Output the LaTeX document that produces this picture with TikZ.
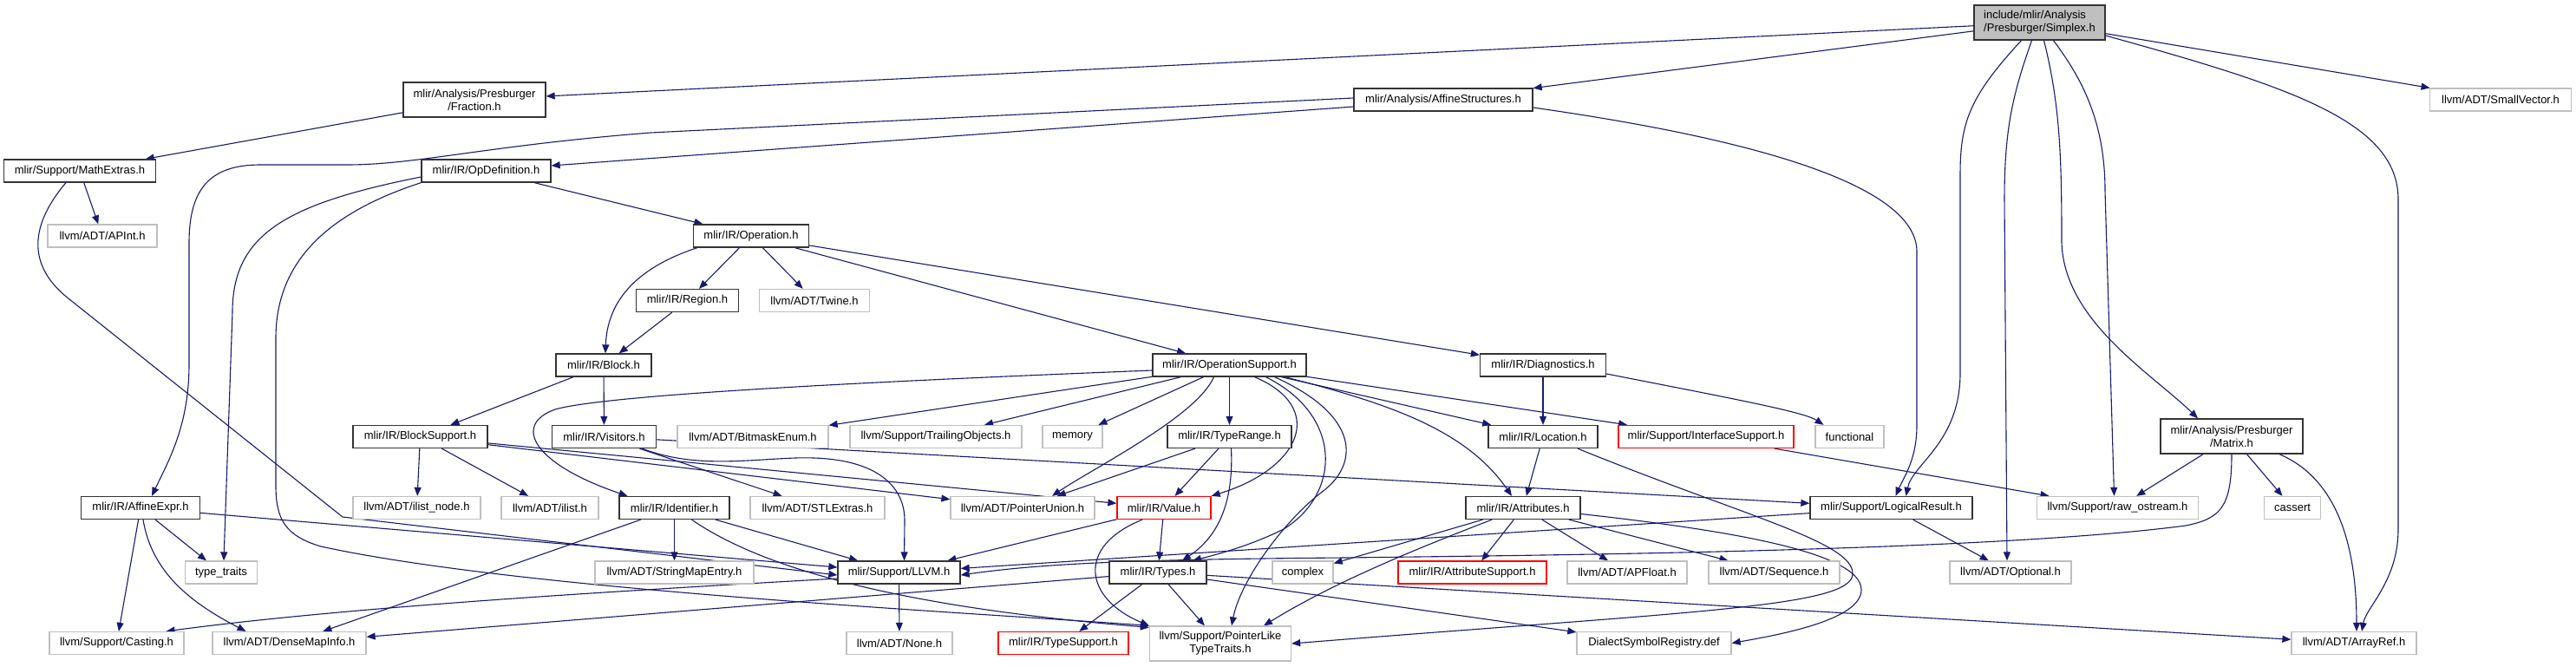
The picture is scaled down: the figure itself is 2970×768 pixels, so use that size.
\documentclass[tikz,border=0pt]{standalone}
\usepackage{fontspec}
\setmainfont{Liberation Sans}
\usetikzlibrary{arrows.meta,backgrounds}
\definecolor{depblue}{RGB}{25,25,112}
\definecolor{sysgray}{RGB}{191,191,191}

\begin{document}
\begin{tikzpicture}[x=1pt,y=-1pt,>={Triangle[length=10pt,width=8pt]}]
  \tikzstyle{hbox}=[draw=black!80, fill=white, line width=1.3pt, minimum height=26pt,
    inner sep=0pt, font=\fontsize{13}{15}\selectfont, align=center]
  \tikzstyle{sysbox}=[hbox, draw=sysgray]
  \tikzstyle{redbox}=[hbox, draw=red]
  \tikzstyle{rootbox}=[hbox, fill=sysgray, minimum height=40pt, align=left]
  \tikzstyle{dep}=[->, draw=depblue, line width=1.1pt]

  \useasboundingbox (0,0) rectangle (2970,768);

  % row by row, top to bottom
  \node[rootbox, minimum width=151pt] (simplex) at (2351.5,26) {include/mlir/Analysis\\/Presburger/Simplex.h};

  \node[hbox, minimum width=164pt, minimum height=40pt] (fraction) at (547,115) {mlir/Analysis/Presburger\\/Fraction.h};
  \node[hbox, minimum width=206pt] (affstruct) at (1664,115) {mlir/Analysis/AffineStructures.h};
  \node[sysbox, minimum width=163pt] (smallvec) at (2883,115) {llvm/ADT/SmallVector.h};

  \node[hbox, minimum width=175pt] (mathextras) at (92,197) {mlir/Support/MathExtras.h};
  \node[hbox, minimum width=149pt] (opdef) at (560.5,197) {mlir/IR/OpDefinition.h};

  \node[sysbox, minimum width=126pt] (apint) at (118,272) {llvm/ADT/APInt.h};
  \node[hbox, minimum width=133pt] (operation) at (866,272) {mlir/IR/Operation.h};

  \node[hbox, minimum width=118pt] (region) at (792.5,346.5) {mlir/IR/Region.h};
  \node[sysbox, minimum width=127pt] (twine) at (939,346.5) {llvm/ADT/Twine.h};

  \node[hbox, minimum width=110pt] (block) at (696,421) {mlir/IR/Block.h};
  \node[hbox, minimum width=177pt] (opsupport) at (1417.5,421) {mlir/IR/OperationSupport.h};
  \node[hbox, minimum width=145pt] (diagnostics) at (1779,421) {mlir/IR/Diagnostics.h};

  \node[hbox, minimum width=155pt] (blocksupport) at (484.5,503.5) {mlir/IR/BlockSupport.h};
  \node[hbox, minimum width=120pt] (visitors) at (696.5,503.5) {mlir/IR/Visitors.h};
  \node[sysbox, minimum width=174pt] (bitmask) at (868,503.5) {llvm/ADT/BitmaskEnum.h};
  \node[sysbox, minimum width=198pt] (trailing) at (1079,503.5) {llvm/Support/TrailingObjects.h};
  \node[sysbox, minimum width=69pt] (memory) at (1236.5,503.5) {memory};
  \node[hbox, minimum width=143pt] (typerange) at (1417.5,503.5) {mlir/IR/TypeRange.h};
  \node[hbox, minimum width=126pt] (location) at (1779,503.5) {mlir/IR/Location.h};
  \node[redbox, minimum width=202pt] (interface) at (1967,503.5) {mlir/Support/InterfaceSupport.h};
  \node[sysbox, minimum width=79pt] (functional) at (2132.5,503.5) {functional};
  \node[hbox, minimum width=164pt, minimum height=40pt] (matrix) at (2573,503) {mlir/Analysis/Presburger\\/Matrix.h};

  \node[hbox, minimum width=137pt] (affexpr) at (162,585.5) {mlir/IR/AffineExpr.h};
  \node[sysbox, minimum width=147pt] (ilistnode) at (480.5,585.5) {llvm/ADT/ilist\_node.h};
  \node[sysbox, minimum width=112pt] (ilist) at (634,585.5) {llvm/ADT/ilist.h};
  \node[hbox, minimum width=127pt] (identifier) at (777.5,585.5) {mlir/IR/Identifier.h};
  \node[sysbox, minimum width=155pt] (stlextras) at (942.5,585.5) {llvm/ADT/STLExtras.h};
  \node[sysbox, minimum width=166pt] (ptrunion) at (1179,585.5) {llvm/ADT/PointerUnion.h};
  \node[redbox, minimum width=108pt] (value) at (1342,585.5) {mlir/IR/Value.h};
  \node[hbox, minimum width=132pt] (attributes) at (1756,585.5) {mlir/IR/Attributes.h};
  \node[hbox, minimum width=187pt] (logical) at (2180.5,585.5) {mlir/Support/LogicalResult.h};
  \node[sysbox, minimum width=186pt] (rawostream) at (2441.5,585.5) {llvm/Support/raw\_ostream.h};
  \node[sysbox, minimum width=65pt] (cassert) at (2643,585.5) {cassert};

  \node[sysbox, minimum width=83pt] (typetraits) at (255,660) {type\_traits};
  \node[sysbox, minimum width=183pt] (stringmap) at (777.5,660) {llvm/ADT/StringMapEntry.h};
  \node[hbox, minimum width=141pt] (llvmh) at (1036.5,660) {mlir/Support/LLVM.h};
  \node[hbox, minimum width=112pt] (types) at (1335,660) {mlir/IR/Types.h};
  \node[sysbox, minimum width=70pt] (complex) at (1502,660) {complex};
  \node[redbox, minimum width=171pt] (attrsupport) at (1697.5,660) {mlir/IR/AttributeSupport.h};
  \node[sysbox, minimum width=138pt] (apfloat) at (1876,660) {llvm/ADT/APFloat.h};
  \node[sysbox, minimum width=151pt] (sequence) at (2045.5,660) {llvm/ADT/Sequence.h};
  \node[sysbox, minimum width=140pt] (optional) at (2318,660) {llvm/ADT/Optional.h};

  \node[sysbox, minimum width=155pt] (casting) at (134.5,741.5) {llvm/Support/Casting.h};
  \node[sysbox, minimum width=177pt] (densemap) at (333.5,741.5) {llvm/ADT/DenseMapInfo.h};
  \node[sysbox, minimum width=122pt] (none) at (1037,741.5) {llvm/ADT/None.h};
  \node[redbox, minimum width=150pt] (typesupport) at (1226,741.5) {mlir/IR/TypeSupport.h};
  \node[sysbox, minimum width=163pt, minimum height=40pt] (ptrlike) at (1407,742) {llvm/Support/PointerLike\\TypeTraits.h};
  \node[sysbox, minimum width=178pt] (dialectreg) at (1907,741.5) {DialectSymbolRegistry.def};
  \node[sysbox, minimum width=144pt] (arrayref) at (2714,741.5) {llvm/ADT/ArrayRef.h};

  \begin{pgfonlayer}{background}
  \fill[white] (0,0) rectangle (2970,768);

  % Simplex.h
  \draw[dep] (simplex) -- (fraction);
  \draw[dep] (simplex) -- (affstruct);
  \draw[dep] (simplex) -- (smallvec);
  \draw[dep] ([xshift=-21pt]simplex.south) .. controls (2272,110) and (2260,140) .. (2260,200) -- (2260,430) .. controls (2260,510) and (2205,535) .. ([xshift=17pt]logical.north);
  \draw[dep] ([xshift=-9pt]simplex.south) .. controls (2320,110) and (2311,150) .. (2311,230) -- ([xshift=-4pt]optional.north);
  \draw[dep] ([xshift=5pt]simplex.south) .. controls (2375,120) and (2377,180) .. (2377,280) .. controls (2380,370) and (2480,430) .. ([xshift=-39pt]matrix.north);
  \draw[dep] ([xshift=16pt]simplex.south) .. controls (2400,90) and (2427,140) .. (2427,220) -- ([xshift=-4pt]rawostream.north);
  \draw[dep] ([yshift=-15pt]simplex.east) .. controls (2640,100) and (2765,140) .. (2765,230) -- (2765,610) .. controls (2765,670) and (2728,700) .. ([xshift=9pt]arrayref.north);

  % Fraction.h, MathExtras.h
  \draw[dep] (fraction) -- (mathextras);
  \draw[dep] (mathextras) -- (apint);
  \draw[dep] ([xshift=-16pt]mathextras.south) .. controls (30,265) and (35,310) .. (80,345) -- (395,596) -- ([yshift=-3pt]llvmh.west);

  % AffineStructures.h
  \draw[dep] ([yshift=-8pt]affstruct.west) -- ([yshift=6pt]opdef.east);
  \draw[dep] ([yshift=2pt]affstruct.west) -- (750,153) .. controls (560,168) and (480,190) .. (400,190) -- (300,190) .. controls (240,190) and (218,220) .. (218,280) -- (218,420) .. controls (218,490) and (195,530) .. ([xshift=13pt]affexpr.north);
  \draw[dep] ([yshift=-9pt]affstruct.east) .. controls (1950,150) and (2210,200) .. (2210,290) -- (2210,490) .. controls (2210,530) and (2195,550) .. ([xshift=5pt]logical.north);

  % OpDefinition.h
  \draw[dep] (opdef) -- (operation);
  \draw[dep] ([yshift=-7pt]opdef.west) .. controls (330,235) and (268,270) .. (268,360) -- ([xshift=3pt]typetraits.north);
  \draw[dep] (opdef.south west) .. controls (380,245) and (318,300) .. (318,390) -- (318,560) .. controls (318,600) and (330,618) .. (370,630) .. controls (600,680) and (1100,705) .. (ptrlike.north west);

  % Operation.h, Region.h, Block.h
  \draw[dep] ([xshift=5pt]operation.south west) .. controls (730,310) and (700,350) .. ([xshift=2pt]block.north);
  \draw[dep] (operation) -- (region);
  \draw[dep] (operation) -- (twine);
  \draw[dep] (operation) -- (opsupport);
  \draw[dep] (operation) -- (diagnostics);
  \draw[dep] (region) -- (block);
  \draw[dep] (block) -- (blocksupport);
  \draw[dep] (block) -- (visitors);

  % BlockSupport.h, Visitors.h
  \draw[dep] (blocksupport) -- (ilistnode);
  \draw[dep] (blocksupport) -- (ilist);
  \draw[dep] (blocksupport) -- (ptrunion);
  \draw[dep] (blocksupport) -- (value);
  \draw[dep] (visitors) -- (stlextras);
  \draw[dep] ([xshift=44pt]visitors.south) .. controls (800,540) and (860,530) .. (917,528) .. controls (1010,525) and (1043,560) .. (1043,600) -- ([xshift=6pt]llvmh.north);
  \draw[dep] (visitors) -- (logical);

  % OperationSupport.h
  \draw[dep] ([yshift=-6pt]opsupport.west) .. controls (1000,440) and (700,455) .. (640,472) .. controls (590,490) and (615,535) .. ([xshift=-54pt]identifier.north);
  \draw[dep] (opsupport) -- (bitmask);
  \draw[dep] (opsupport) -- (trailing);
  \draw[dep] (opsupport) -- (memory);
  \draw[dep] ([xshift=-18pt]opsupport.south) .. controls (1380,480) and (1260,540) .. ([xshift=34pt]ptrunion.north);
  \draw[dep] (opsupport) -- (typerange);
  \draw[dep] ([xshift=29pt]opsupport.south) .. controls (1530,470) and (1500,540) .. (value.north east);
  \draw[dep] ([xshift=42pt]opsupport.south) .. controls (1550,480) and (1545,570) .. (1480,610) .. controls (1440,630) and (1400,640) .. ([xshift=40pt]types.north);
  \draw[dep] ([xshift=52pt]opsupport.south) .. controls (1570,480) and (1565,535) .. (1527,565) .. controls (1480,600) and (1430,670) .. ([xshift=13pt]ptrlike.north);
  \draw[dep] ([xshift=64pt]opsupport.south) .. controls (1600,465) and (1690,495) .. ([xshift=-13pt]attributes.north);
  \draw[dep] (opsupport) -- (location);
  \draw[dep] (opsupport) -- (interface);

  % TypeRange.h, Value.h, Identifier.h
  \draw[dep] (typerange) -- (ptrunion);
  \draw[dep] (typerange) -- (value);
  \draw[dep] ([xshift=2pt]typerange.south) .. controls (1422,570) and (1410,615) .. ([xshift=28pt]types.north);
  \draw[dep] (value) -- (llvmh);
  \draw[dep] (value) -- (types);
  \draw[dep] ([xshift=-25pt]value.south) .. controls (1240,630) and (1250,690) .. (ptrlike.north west);
  \draw[dep] (identifier) -- (densemap);
  \draw[dep] (identifier) -- (stringmap);
  \draw[dep] (identifier) -- (llvmh);
  \draw[dep] ([xshift=20pt]identifier.south) .. controls (900,670) and (1100,705) .. ([yshift=-2pt]ptrlike.north west);

  % LLVM.h, Types.h
  \draw[dep] (llvmh) -- (none);
  \draw[dep] ([yshift=-7pt]llvmh.west) .. controls (700,682) and (400,700) .. ([xshift=57pt]casting.north);
  \draw[dep] (types) -- (typesupport);
  \draw[dep] (types) -- (ptrlike);
  \draw[dep] (types) -- (densemap);
  \draw[dep] (types) -- (dialectreg);
  \draw[dep] (types) -- (arrayref);

  % Attributes.h, Location.h, Diagnostics.h
  \draw[dep] (attributes) -- (complex);
  \draw[dep] ([xshift=-36pt]attributes.south) .. controls (1640,630) and (1540,670) .. ([xshift=50pt]ptrlike.north);
  \draw[dep] (attributes) -- (attrsupport);
  \draw[dep] (attributes) -- (apfloat);
  \draw[dep] (attributes) -- (sequence);
  \draw[dep] ([yshift=-7pt]attributes.east) .. controls (1980,610) and (2146,635) .. (2146,680) .. controls (2146,715) and (2050,732) .. (dialectreg.east);
  \draw[dep] (location) -- (attributes);
  \draw[dep] ([xshift=40pt]location.south) .. controls (2010,595) and (2138,625) .. (2136,662) .. controls (2134,700) and (1950,705) .. (ptrlike.east);
  \draw[dep] (diagnostics) -- (location);
  \draw[dep] ([yshift=-10pt]diagnostics.east) .. controls (2000,460) and (2080,475) .. ([xshift=-30pt]functional.north);
  \draw[dep] (interface) -- (rawostream);

  % LogicalResult.h, Matrix.h
  \draw[dep] (logical) -- (llvmh);
  \draw[dep] (logical) -- (optional);
  \draw[dep] (matrix) -- (rawostream);
  \draw[dep] (matrix) -- (cassert);
  \draw[dep] ([xshift=55pt]matrix.south) .. controls (2690,550) and (2717,620) .. ([xshift=3pt]arrayref.north);
  \draw[dep] (matrix.south) .. controls (2573,585) and (2560,598) .. (2520,606) .. controls (2300,635) and (1800,640) .. (1550,643) .. controls (1300,645) and (1200,650) .. ([yshift=-3pt]llvmh.east);

  % AffineExpr.h
  \draw[dep] (affexpr) -- (typetraits);
  \draw[dep] (affexpr) -- (casting);
  \draw[dep] ([xshift=3pt]affexpr.south) .. controls (175,660) and (220,695) .. ([xshift=-50pt]densemap.north);
  \draw[dep] (affexpr) -- (llvmh);
  \end{pgfonlayer}
\end{tikzpicture}
\end{document}
